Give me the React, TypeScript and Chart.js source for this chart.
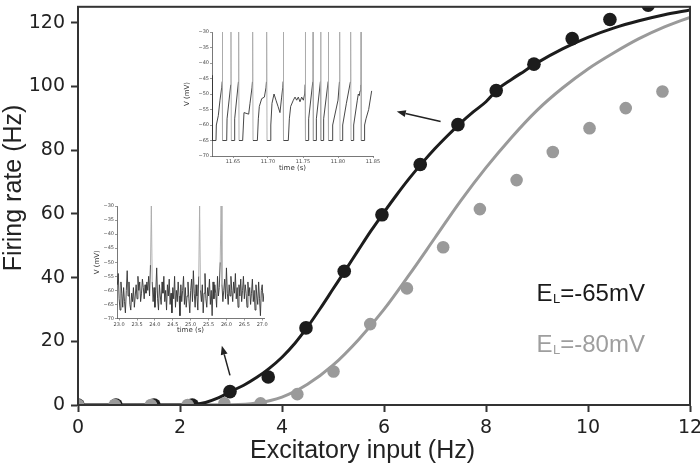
import React, { useEffect, useRef } from 'react';
import { Chart, registerables } from 'chart.js';
Chart.register(...registerables);

// ---------- main chart data ----------
const X_TICKS = [0, 2, 4, 6, 8, 10, 12];
const Y_TICKS = [0, 20, 40, 60, 80, 100, 120];

const DOTS65_X = [0, 0.745, 1.49, 2.24, 2.98, 3.73, 4.47, 5.22, 5.96, 6.71, 7.45, 8.2, 8.94, 9.69, 10.43, 11.18];
const DOTS65_Y = [0, 0, 0, 0, 4.2, 8.8, 24.2, 42, 59.7, 75.5, 88, 98.7, 107, 115, 121, 125.5];

const DOTS80_X = [0, 0.72, 1.43, 2.15, 2.87, 3.58, 4.3, 5.01, 5.73, 6.45, 7.16, 7.88, 8.6, 9.31, 10.03, 10.74, 11.46];
const DOTS80_Y = [0, 0, 0, 0, 0.5, 0.5, 3.4, 10.5, 25.4, 36.6, 49.5, 61.5, 70.6, 79.4, 86.9, 93.2, 98.4];

const FIT65_X = [0, 2.0, 2.3, 2.5, 2.75, 3.0, 3.25, 3.5, 3.75, 4.0, 4.25, 4.5, 4.75, 5.0, 5.25, 5.5, 5.75, 6.0, 6.25, 6.5, 6.75, 7.0, 7.25, 7.5, 7.75, 8.0, 8.25, 8.5, 8.75, 9.0, 9.5, 10.0, 10.5, 11.0, 11.5, 12.0];
const FIT65_Y = [0, 0, 0.2, 0.8, 2.2, 4.3, 6.2, 8.6, 11.5, 15, 19.3, 24.5, 30.3, 36.4, 42.5, 48.7, 54.8, 60.5, 66, 71.2, 76, 80.5, 84.6, 88.5, 92, 95.2, 99.4, 102.2, 104.8, 107.4, 111.8, 115.4, 118.3, 120.6, 122.5, 124];

const FIT80_X = [0, 3.0, 3.5, 4.0, 4.5, 5.0, 5.5, 6.0, 6.5, 7.0, 7.5, 8.0, 8.5, 9.0, 9.5, 10.0, 10.5, 11.0, 11.5, 12.0];
const FIT80_Y = [0, 0.1, 0.6, 2.5, 6.5, 12.5, 20.5, 30, 41, 52.5, 64, 74.5, 84, 92.5, 99.5, 105.5, 110.5, 115, 118.7, 121.7];

const LEGEND_LABELS = ['=-65mV', '=-80mV'];
const LEGEND_COLORS = ['#1a1a1a', '#9e9e9e'];
const X_TITLE = 'Excitatory input (Hz)';
const Y_TITLE = 'Firing rate (Hz)';

// arrows in data coordinates [fromX, fromY, toX, toY]
const ARROW_TOP = [7.11, 89.0, 6.25, 92.1];
const ARROW_BOTTOM = [2.98, 9.3, 2.82, 18.6];

// ---------- inset 1 (regular spiking) ----------
const INSET1_X_TICKS = [11.65, 11.7, 11.75, 11.8, 11.85];
const INSET_Y_TICKS = [-70, -65, -60, -55, -50, -45, -40, -35, -30];
const TRACE1_T = [
  11.6200, 11.6203, 11.6257, 11.6262, 11.6290, 11.6314, 11.6338, 11.6346, 11.6348, 11.6352,
  11.6410, 11.6415, 11.6468, 11.6471, 11.6476,
  11.6519, 11.6524, 11.6578, 11.6581, 11.6586,
  11.6638, 11.6657, 11.6724, 11.6743, 11.6771, 11.6778, 11.6781, 11.6786,
  11.6848, 11.6862, 11.6876, 11.6910, 11.6948, 11.6971, 11.6978, 11.6981, 11.6986,
  11.7029, 11.7040, 11.7057, 11.7086, 11.7114, 11.7143, 11.7171, 11.7195, 11.7210, 11.7216, 11.7219, 11.7224,
  11.7290, 11.7305, 11.7324, 11.7362, 11.7386, 11.7410, 11.7433, 11.7457, 11.7481, 11.7505, 11.7524, 11.7530, 11.7533, 11.7538,
  11.7576, 11.7581, 11.7640, 11.7643, 11.7648,
  11.7686, 11.7691, 11.7749, 11.7752, 11.7757,
  11.7790, 11.7795, 11.7859, 11.7862, 11.7867,
  11.7919, 11.7924, 11.8000, 11.8021, 11.8024, 11.8029,
  11.8062, 11.8067, 11.8120, 11.8178, 11.8181, 11.8186,
  11.8219, 11.8224, 11.8276, 11.8290, 11.8305, 11.8315, 11.8326, 11.8329, 11.8333,
  11.8376, 11.8380, 11.8400, 11.8438, 11.8481,
];
const TRACE1_V = [
  -44, -65, -65, -60, -57, -52, -48, -46, -30, -65,
  -65, -58, -47, -30, -65,
  -65, -58, -46, -30, -65,
  -65, -56, -56.5, -53, -48, -46, -30, -65,
  -65, -58, -54, -51.5, -51, -48, -46, -30, -65,
  -65, -60, -53, -50, -52, -54, -56, -51, -48, -46, -30, -65,
  -65, -58, -54, -52, -51, -52, -51, -52.5, -51, -52, -50, -47, -30, -65,
  -65, -58, -46, -30, -65,
  -65, -58, -46, -30, -65,
  -65, -58, -46, -30, -65,
  -65, -60, -52, -46, -30, -65,
  -65, -60, -53, -46, -30, -65,
  -65, -60, -52, -50, -50.5, -49, -47, -30, -65,
  -65, -60, -58, -55, -49,
];

// ---------- inset 2 (noisy, sparse spiking) ----------
const INSET2_X_TICKS = [23.0, 23.5, 24.0, 24.5, 25.0, 25.5, 26.0, 26.5, 27.0];
const TRACE2_T0 = 22.95;
const TRACE2_DT = 0.025;
const TRACE2_V = [
  -58, -54, -63, -67, -57, -61, -66, -59, -64, -68,
  -60, -53, -62, -57, -65, -67, -61, -64, -59, -66,
  -62, -58, -63, -55, -60, -57, -64, -61, -56, -59,
  -63, -58, -61, -57, -60, -55, -62, -51, -30, -57,
  -64, -59, -66, -60, -52, -63, -67, -58, -62, -65,
  -57, -61, -55, -64, -60, -67, -58, -62, -56, -65,
  -61, -68, -59, -63, -55, -66, -60, -64, -57, -62,
  -69, -58, -64, -60, -55, -65, -59, -66, -62, -57,
  -63, -68, -60, -56, -64, -53, -61, -66, -58, -62,
  -67, -55, -30, -60, -64, -58, -68, -61, -54, -63,
  -66, -59, -62, -56, -65, -60, -69, -57, -63, -58,
  -61, -66, -55, -62, -59, -50, -30, -58, -64, -60,
  -56, -63, -52, -61, -65, -58, -62, -55, -60, -64,
  -57, -61, -54, -63, -59, -66, -58, -62, -56, -64,
  -60, -55, -63, -58, -61, -66, -57, -62, -59, -65,
  -61, -56, -64, -60, -67, -58, -62, -65, -57, -63,
  -69, -60, -58, -64, -61,
];

const zip = (xs: number[], ys: number[]) => xs.map((x, i) => ({ x, y: ys[i] }));
const fmtMinus = (v: number) => (v < 0 ? '\u2212' + Math.abs(v) : String(v));

function fixedAxis(size: number, horizontal: boolean) {
  return (scale: any) => {
    if (horizontal) scale.height = size; else scale.width = size;
    scale.paddingLeft = 0; scale.paddingRight = 0; scale.paddingTop = 0; scale.paddingBottom = 0;
  };
}

function drawArrow(ctx: CanvasRenderingContext2D, x0: number, y0: number, x1: number, y1: number) {
  const ang = Math.atan2(y1 - y0, x1 - x0);
  const len = 9, hw = 3.5;
  const bx = x1 - len * Math.cos(ang), by = y1 - len * Math.sin(ang);
  ctx.beginPath();
  ctx.moveTo(x0, y0);
  ctx.lineTo(bx, by);
  ctx.stroke();
  ctx.beginPath();
  ctx.moveTo(x1, y1);
  ctx.lineTo(bx + hw * Math.sin(ang), by - hw * Math.cos(ang));
  ctx.lineTo(bx - hw * Math.sin(ang), by + hw * Math.cos(ang));
  ctx.closePath();
  ctx.fill();
}

const annotPlugin = {
  id: 'annot',
  afterDraw(chart: any) {
    const { ctx, chartArea: a, scales } = chart;
    const xs = scales.x, ys = scales.y;
    ctx.save();
    // frame
    ctx.strokeStyle = '#333';
    ctx.lineWidth = 2;
    ctx.strokeRect(a.left, a.top, a.right - a.left, a.bottom - a.top);
    // arrows
    ctx.strokeStyle = '#222';
    ctx.fillStyle = '#222';
    ctx.lineWidth = 1.5;
    for (const ar of [ARROW_TOP, ARROW_BOTTOM]) {
      drawArrow(ctx, xs.getPixelForValue(ar[0]), ys.getPixelForValue(ar[1]), xs.getPixelForValue(ar[2]), ys.getPixelForValue(ar[3]));
    }
    // axis titles
    ctx.fillStyle = '#222';
    ctx.font = '25px "Liberation Sans", Arial, sans-serif';
    ctx.textAlign = 'center';
    ctx.textBaseline = 'middle';
    ctx.fillText(X_TITLE, 362.5, 451);
    ctx.save();
    ctx.translate(14, 188);
    ctx.rotate(-Math.PI / 2);
    ctx.fillText(Y_TITLE, 0, 0);
    ctx.restore();
    // legend texts
    ctx.textAlign = 'left';
    ctx.textBaseline = 'alphabetic';
    const baselines = [300.5, 351.5];
    LEGEND_LABELS.forEach((lab, i) => {
      ctx.fillStyle = LEGEND_COLORS[i];
      let x = 536.5;
      ctx.font = '24px "Liberation Sans", Arial, sans-serif';
      ctx.fillText('E', x, baselines[i]);
      x += ctx.measureText('E').width + 0.5;
      ctx.font = '13px "Liberation Sans", Arial, sans-serif';
      ctx.fillText('L', x, baselines[i] + 2);
      x += ctx.measureText('L').width;
      ctx.font = '24px "Liberation Sans", Arial, sans-serif';
      ctx.fillText(lab, x, baselines[i]);
    });
    ctx.restore();
  },
};

function insetConfig(opts: any) {
  const tickFont = { family: '"DejaVu Sans", sans-serif', size: 5 };
  const titleFont = { family: '"DejaVu Sans", sans-serif', size: 7 };
  return {
    type: 'scatter',
    data: {
      datasets: [
        {
          data: opts.data,
          showLine: true,
          pointRadius: 0,
          borderWidth: 0.9,
          borderColor: '#333',
          tension: 0,
          clip: 0,
          segment: {
            borderColor: (c: any) => (c.p0.parsed.y > -43 || c.p1.parsed.y > -43 ? '#aaaaaa' : '#333333'),
          },
        },
      ],
    },
    options: {
      responsive: false,
      animation: false,
      events: [],
      layout: { padding: opts.padding },
      plugins: { legend: { display: false }, tooltip: { enabled: false } },
      scales: {
        x: {
          type: 'linear',
          min: opts.xmin,
          max: opts.xmax,
          afterFit: fixedAxis(opts.xh, true),
          afterBuildTicks: (s: any) => { s.ticks = opts.xticks.map((v: number) => ({ value: v })); },
          ticks: { font: tickFont, color: '#444', padding: 1, maxRotation: 0, autoSkip: false, callback: opts.xfmt },
          grid: { drawOnChartArea: false, drawTicks: true, tickLength: 2, color: '#555', tickWidth: 0.6 },
          border: { display: true, color: '#555', width: 0.8 },
          title: { display: true, text: 'time (s)', font: titleFont, color: '#333', padding: { top: 0, bottom: opts.xtp } },
        },
        y: {
          type: 'linear',
          min: -70,
          max: -30,
          afterFit: fixedAxis(opts.yw, false),
          afterBuildTicks: (s: any) => { s.ticks = INSET_Y_TICKS.map((v) => ({ value: v })); },
          ticks: { font: tickFont, color: '#444', padding: 1, autoSkip: false, callback: (v: number) => fmtMinus(v) },
          grid: { drawOnChartArea: false, drawTicks: true, tickLength: 2, color: '#555', tickWidth: 0.6 },
          border: { display: true, color: '#555', width: 0.8 },
          title: { display: true, text: 'V (mV)', font: titleFont, color: '#333', padding: { top: opts.ytp, bottom: 0 } },
        },
      },
    },
  };
}

export default function App() {
  const mainRef = useRef<HTMLCanvasElement>(null);
  const in1Ref = useRef<HTMLCanvasElement>(null);
  const in2Ref = useRef<HTMLCanvasElement>(null);

  useEffect(() => {
    document.body.style.margin = '0';
    const tickFont = { family: '"DejaVu Sans", sans-serif', size: 19 };
    const main = new Chart(mainRef.current as HTMLCanvasElement, {
      type: 'scatter',
      data: {
        datasets: [
          { data: zip(DOTS80_X, DOTS80_Y), pointRadius: 6.3, pointBackgroundColor: '#9a9a9a', pointBorderWidth: 0, showLine: false, clip: 0 },
          { data: zip(DOTS65_X, DOTS65_Y), pointRadius: 6.8, pointBackgroundColor: '#1c1c1c', pointBorderWidth: 0, showLine: false, clip: 0 },
          { data: zip(FIT65_X, FIT65_Y), showLine: true, pointRadius: 0, borderColor: '#1c1c1c', borderWidth: 3, cubicInterpolationMode: 'monotone', clip: 0 },
          { data: zip(FIT80_X, FIT80_Y), showLine: true, pointRadius: 0, borderColor: '#9a9a9a', borderWidth: 3, cubicInterpolationMode: 'monotone', clip: 0 },
        ],
      } as any,
      options: {
        responsive: false,
        animation: false,
        events: [],
        layout: { padding: { top: 1, right: 10, left: 0, bottom: 0 } },
        plugins: { legend: { display: false }, tooltip: { enabled: false } },
        scales: {
          x: {
            type: 'linear',
            min: 0,
            max: 12,
            afterFit: fixedAxis(68, true),
            afterBuildTicks: (s: any) => { s.ticks = X_TICKS.map((v) => ({ value: v })); },
            ticks: { font: tickFont, color: '#222', padding: 5, maxRotation: 0, autoSkip: false },
            grid: { drawOnChartArea: false, drawTicks: true, tickLength: 7, tickWidth: 2, color: '#333' },
            border: { display: true, color: '#333', width: 2 },
          },
          y: {
            type: 'linear',
            min: 0,
            max: 125,
            afterFit: fixedAxis(78, false),
            afterBuildTicks: (s: any) => { s.ticks = Y_TICKS.map((v) => ({ value: v })); },
            ticks: { font: tickFont, color: '#222', padding: 6, autoSkip: false },
            grid: { drawOnChartArea: false, drawTicks: true, tickLength: 7, tickWidth: 2, color: '#333' },
            border: { display: true, color: '#333', width: 2 },
          },
        },
      } as any,
      plugins: [annotPlugin],
    });

    const in1 = new Chart(in1Ref.current as HTMLCanvasElement, insetConfig({
      data: zip(TRACE1_T, TRACE1_V),
      xmin: 11.62, xmax: 11.85, xticks: INSET1_X_TICKS,
      xfmt: (v: number) => v.toFixed(2),
      padding: { top: 12, right: 12, left: 0, bottom: 0 },
      xh: 24, yw: 42, xtp: 8, ytp: 13,
    }) as any);

    const in2 = new Chart(in2Ref.current as HTMLCanvasElement, insetConfig({
      data: TRACE2_V.map((v, i) => ({ x: TRACE2_T0 + i * TRACE2_DT, y: v })),
      xmin: 22.94, xmax: 27.05, xticks: INSET2_X_TICKS,
      xfmt: (v: number) => v.toFixed(1),
      padding: { top: 11, right: 11, left: 0, bottom: 0 },
      xh: 21.5, yw: 37, xtp: 6, ytp: 12.5,
    }) as any);

    return () => { main.destroy(); in1.destroy(); in2.destroy(); };
  }, []);

  return (
    <div style={{ position: 'fixed', left: 0, top: 0, width: 700, height: 473, background: '#fff', overflow: 'hidden' }}>
      <canvas ref={mainRef} width={700} height={473} style={{ position: 'absolute', left: 0, top: 0 }} />
      <canvas ref={in1Ref} width={215} height={160} style={{ position: 'absolute', left: 170, top: 20 }} />
      <canvas ref={in2Ref} width={195} height={145} style={{ position: 'absolute', left: 80, top: 195 }} />
    </div>
  );
}
